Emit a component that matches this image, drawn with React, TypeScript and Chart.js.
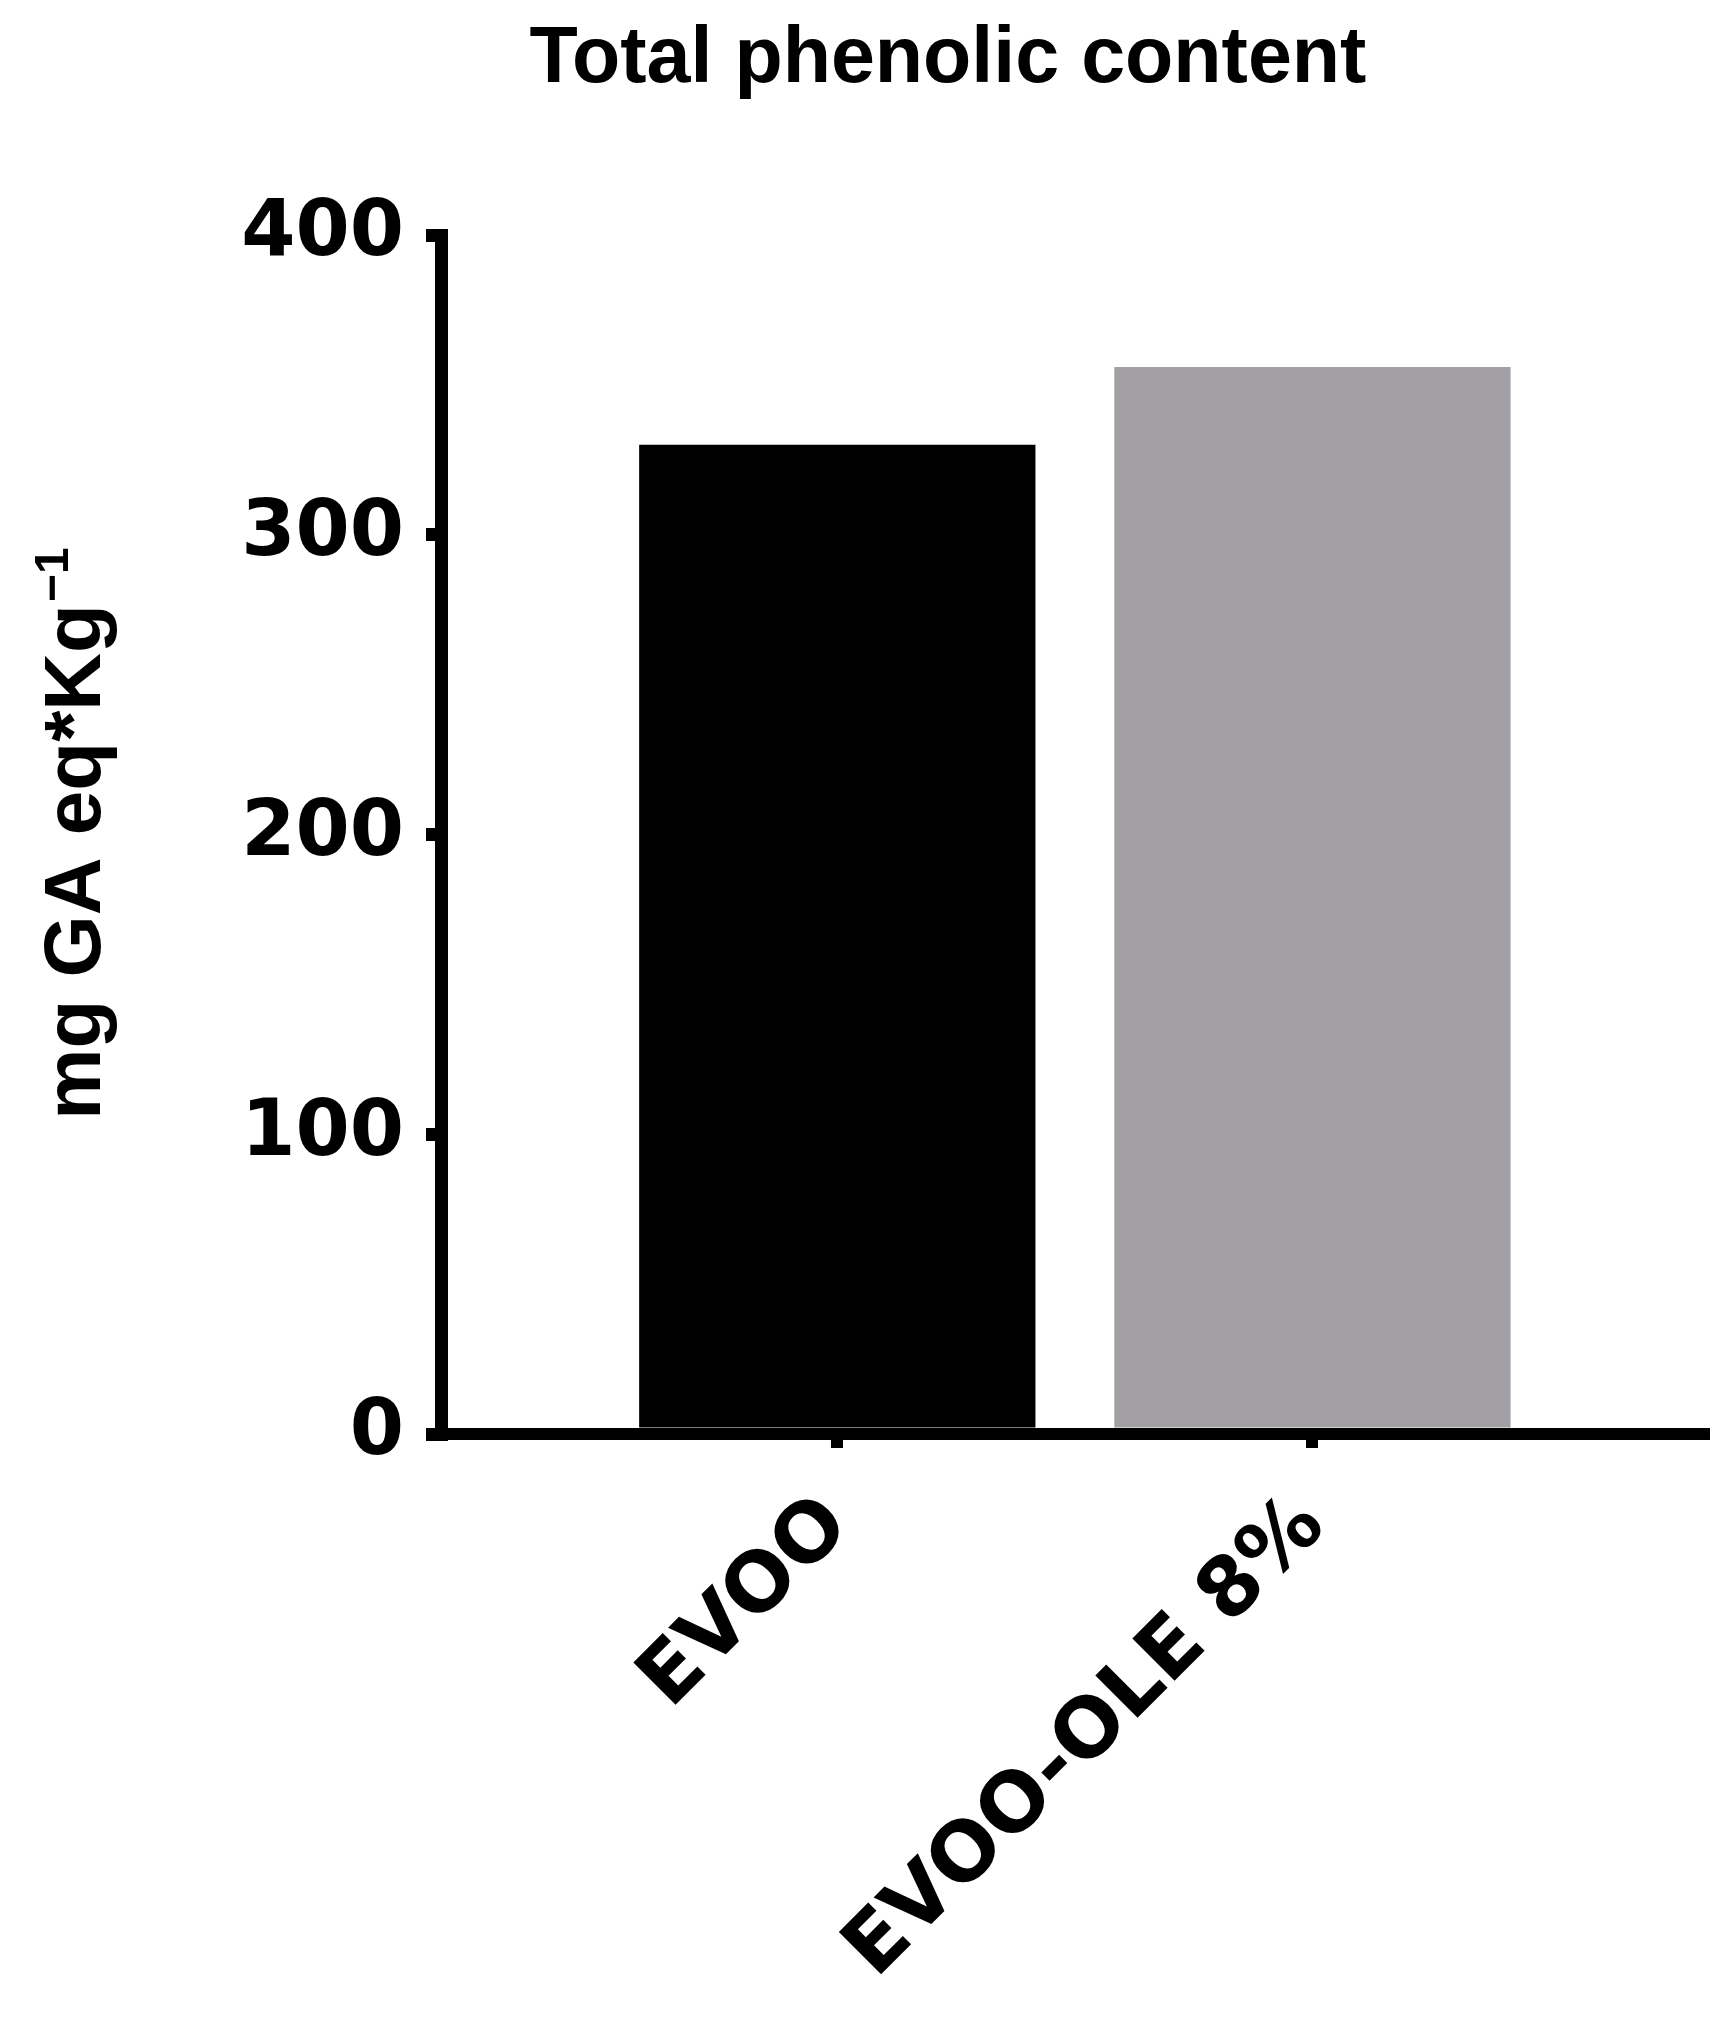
import React, { useEffect, useRef } from 'react';
import { Chart, registerables } from 'chart.js';

Chart.register(...registerables);

const chartTitle = 'Total phenolic content';
const yAxisTitle = 'mg GA eq*Kg';
const yAxisTitleSup = '\u22121';
const categories = ['EVOO', 'EVOO-OLE 8%'];
const values = [330, 356];
const barColors = ['#000000', '#a2a0a5'];
const yMin = 0;
const yMax = 400;
const yStep = 100;

const FONT = '"Liberation Sans", Arial, Helvetica, sans-serif';
const TICK_FONT = '"DejaVu Sans", "Liberation Sans", sans-serif';

const textPlugin = {
  id: 'extraTexts',
  afterDraw(chart: any) {
    const { ctx, chartArea } = chart;
    ctx.save();
    ctx.fillStyle = '#000';
    ctx.font = `bold 79px ${FONT}`;
    ctx.textAlign = 'center';
    ctx.textBaseline = 'alphabetic';
    ctx.fillText(chartTitle, chartArea.left + 507, 82);
    ctx.restore();

    ctx.save();
    ctx.fillStyle = '#000';
    ctx.translate(100, (chartArea.top + chartArea.bottom) / 2);
    ctx.rotate(-Math.PI / 2);
    const mainFont = `bold 80px ${FONT}`;
    const supFont = `bold 48px ${FONT}`;
    ctx.font = mainFont;
    const w1 = ctx.measureText(yAxisTitle).width;
    ctx.font = supFont;
    const w2 = ctx.measureText(yAxisTitleSup).width;
    const start = -(w1 + w2) / 2;
    ctx.textAlign = 'left';
    ctx.textBaseline = 'alphabetic';
    ctx.font = mainFont;
    ctx.fillText(yAxisTitle, start, 0);
    ctx.font = supFont;
    ctx.fillText(yAxisTitleSup, start + w1 + 2, -32);
    ctx.restore();
  },
};

export default function App() {
  const ref = useRef<HTMLCanvasElement | null>(null);

  useEffect(() => {
    document.body.style.margin = '0';
    if (!ref.current) return;
    const yTickFont = { family: TICK_FONT, size: 78, weight: 'bold' as const };
    const xTickFont = { family: TICK_FONT, size: 82, weight: 'bold' as const };
    const chart = new Chart(ref.current, {
      type: 'bar',
      data: {
        datasets: [
          {
            data: values.map((v, i) => ({ x: i + 1, y: v })),
            backgroundColor: barColors,
            borderWidth: 0,
            categoryPercentage: 0.834,
            barPercentage: 1,
          },
        ],
      },
      options: {
        responsive: false,
        animation: false,
        layout: { padding: { top: 235, right: 21, bottom: 0, left: 0 } },
        plugins: {
          legend: { display: false },
          title: { display: false },
          tooltip: { enabled: false },
        },
        scales: {
          x: {
            type: 'linear',
            offset: false,
            min: 0.166,
            max: 2.824,
            z: 1,
            afterBuildTicks: (s: any) => {
              s.ticks = categories.map((_, i) => ({ value: i + 1 }));
            },
            afterFit: (s: any) => {
              s.height = 586;
            },
            ticks: {
              callback: (v: any) => categories[Number(v) - 1] ?? '',
              maxRotation: 45,
              minRotation: 45,
              font: xTickFont,
              color: '#000',
              padding: 30,
            },
            grid: {
              display: true,
              offset: false,
              drawOnChartArea: false,
              drawTicks: true,
              tickLength: 14,
              lineWidth: 12,
              color: '#000',
            },
            border: { display: true, width: 12, color: '#000' },
          },
          y: {
            type: 'linear',
            min: yMin,
            max: yMax,
            z: 1,
            afterFit: (s: any) => {
              s.width = 441;
            },
            ticks: {
              stepSize: yStep,
              font: yTickFont,
              color: '#000',
              padding: 22,
            },
            grid: {
              display: true,
              drawOnChartArea: false,
              drawTicks: true,
              tickLength: 15,
              lineWidth: 13,
              color: '#000',
            },
            border: { display: true, width: 13, color: '#000' },
          },
        },
      },
      plugins: [textPlugin],
    });
    return () => chart.destroy();
  }, []);

  return (
    <div style={{ width: 1725, height: 2020 }}>
      <canvas ref={ref} width={1725} height={2020} style={{ display: 'block' }} />
    </div>
  );
}
